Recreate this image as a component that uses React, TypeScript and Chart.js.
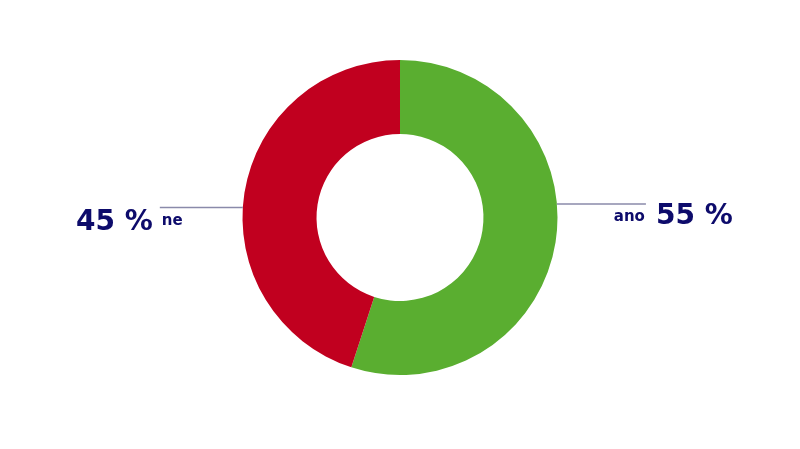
import React, { useEffect, useRef } from "react";
import { Chart, registerables } from "chart.js";

Chart.register(...registerables);

const categories = ["ano", "ne"];
const values = [55, 45];
const valueLabels = ["55 %", "45 %"];
const colors = ["#5aae30", "#c1001f"];

const NAVY = "#0d0b6b";
const LINE = "#8a8aaa";
const FONT = "'DejaVu Sans'";

const labelPlugin = {
  id: "leaderLabels",
  afterDraw(chart: any) {
    const meta = chart.getDatasetMeta(0);
    const ctx = chart.ctx;
    const arc0 = meta.data[0];
    if (!arc0) return;
    const cx = arc0.x;
    const cy = arc0.y;
    const r = arc0.outerRadius;
    ctx.save();
    // right label (ano)
    const yR = cy - 13.5;
    const xR = cx + Math.sqrt(r * r - 13.5 * 13.5);
    ctx.strokeStyle = LINE;
    ctx.lineWidth = 1.3;
    ctx.beginPath();
    ctx.moveTo(xR, yR);
    ctx.lineTo(xR + 89, yR);
    ctx.stroke();
    ctx.fillStyle = NAVY;
    ctx.textBaseline = "alphabetic";
    ctx.textAlign = "right";
    ctx.font = `bold 15px ${FONT}`;
    ctx.fillText(categories[0], xR + 88, yR + 17);
    ctx.textAlign = "left";
    ctx.font = `bold 28px ${FONT}`;
    ctx.fillText(valueLabels[0], xR + 99, yR + 20);

    // left label (ne)
    const yL = cy - 10;
    const xL = cx - Math.sqrt(r * r - 10 * 10);
    ctx.beginPath();
    ctx.moveTo(xL, yL);
    ctx.lineTo(xL - 83, yL);
    ctx.stroke();
    ctx.textAlign = "left";
    ctx.font = `bold 15px ${FONT}`;
    ctx.fillText(categories[1], xL - 81, yL + 17.5);
    ctx.textAlign = "right";
    ctx.font = `bold 28px ${FONT}`;
    ctx.fillText(valueLabels[1], xL - 90, yL + 22.5);
    ctx.restore();
  },
};

export default function App() {
  const ref = useRef<HTMLCanvasElement | null>(null);
  useEffect(() => {
    document.body.style.margin = "0";
    const canvas = ref.current;
    if (!canvas) return;
    const chart = new Chart(canvas, {
      type: "doughnut",
      data: {
        labels: categories,
        datasets: [
          {
            data: values,
            backgroundColor: colors,
            borderWidth: 0,
          },
        ],
      },
      options: {
        responsive: false,
        animation: false,
        cutout: "53%",
        layout: { padding: { top: 60, bottom: 74 } },
        plugins: {
          legend: { display: false },
          tooltip: { enabled: false },
        },
      },
      plugins: [labelPlugin],
    });
    return () => chart.destroy();
  }, []);
  return (
    <div style={{ width: 800, height: 449, background: "#fff" }}>
      <canvas ref={ref} width={800} height={449} />
    </div>
  );
}
